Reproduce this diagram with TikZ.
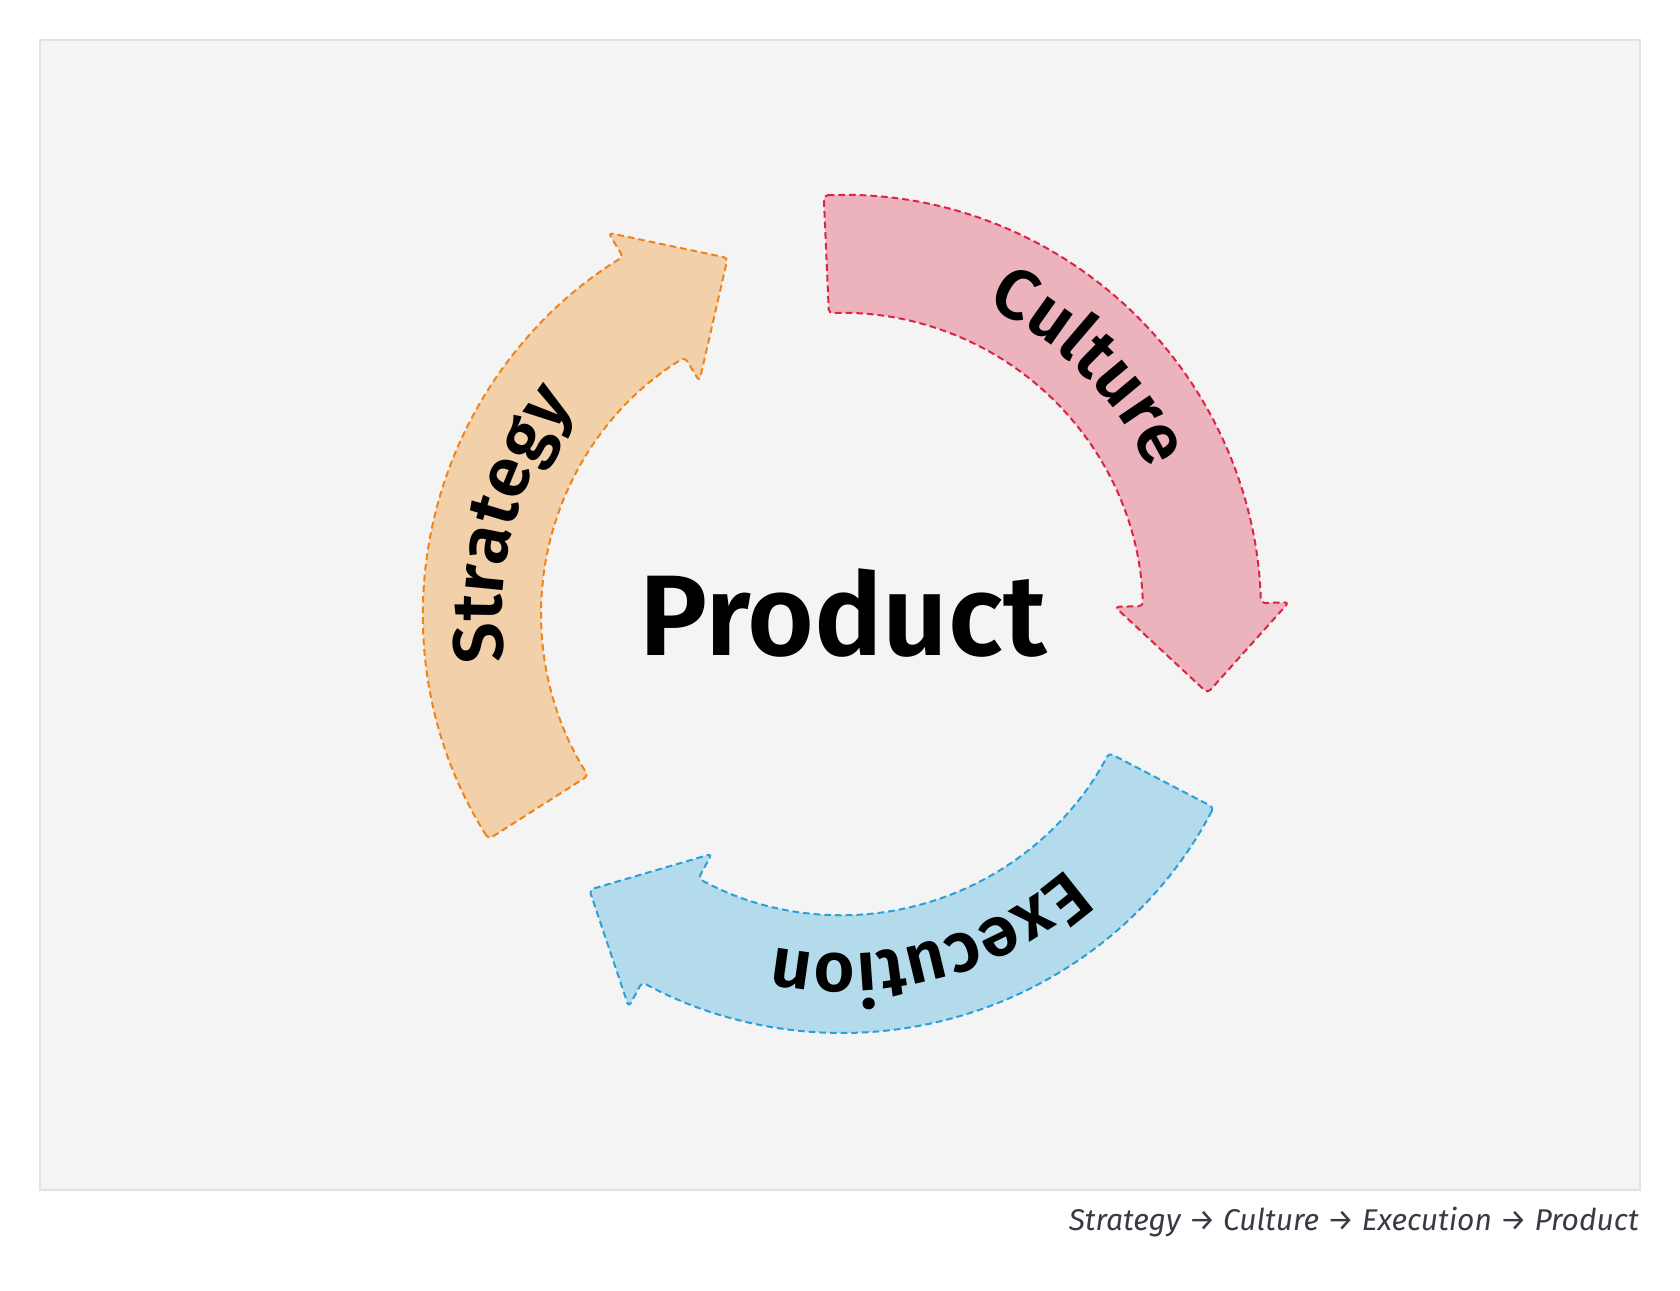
\documentclass[tikz,border=0pt]{standalone}
\usepackage{fontspec}
\setmainfont{Fira Sans}[BoldFont={Fira Sans SemiBold}]
\usetikzlibrary{decorations.text}
\definecolor{panelfill}{HTML}{F4F4F4}
\definecolor{panelline}{HTML}{E2E2E2}
\definecolor{strategyfill}{HTML}{F2D0AA}
\definecolor{strategyline}{HTML}{F08418}
\definecolor{culturefill}{HTML}{ECB3BD}
\definecolor{cultureline}{HTML}{DC2444}
\definecolor{executionfill}{HTML}{B3DBEC}
\definecolor{executionline}{HTML}{2A9FD8}
\definecolor{captiontext}{HTML}{3A3A44}
\begin{document}
\begin{tikzpicture}[x=0.75pt,y=0.75pt,
	band/.style={line width=1.5pt,dash pattern=on 5pt off 3pt,line join=round,rounded corners=3pt},
	bandtext/.style={decorate,decoration={text along path,text align=center,
		text={|\bfseries\fontsize{53pt}{53pt}\selectfont|#1}}}]
	\useasboundingbox (0,0) rectangle (1680,1290);
	\fill[white] (0,0) rectangle (1680,1290);
	\draw[fill=panelfill,draw=panelline,line width=1.5pt] (40,100) rectangle (1640,1250);
	
	\coordinate (O) at (842,676);
	\begin{scope}[shift={(O)}]
		% Strategy
		\draw[band,fill=strategyfill,draw=strategyline] (212.5:419) arc[start angle=212.5,end angle=121.5,radius=419]
			-- (121.5:447) -- (107.8:374) -- (121.5:273) -- (121.5:301)
			arc[start angle=121.5,end angle=212.5,radius=301] -- cycle;
		\path[bandtext=Strategy] (210:340) arc[start angle=210,end angle=120,radius=340];
		
		% Culture
		\draw[band,fill=culturefill,draw=cultureline] (92.5:419) arc[start angle=92.5,end angle=1.5,radius=419]
			-- (1.5:447) -- (-12.2:374) -- (1.5:273) -- (1.5:301)
			arc[start angle=1.5,end angle=92.5,radius=301] -- cycle;
		\path[bandtext=Culture] (90:340) arc[start angle=90,end angle=0,radius=340];
		
		% Execution
		\draw[band,fill=executionfill,draw=executionline] (-27.5:419) arc[start angle=-27.5,end angle=-118.5,radius=419]
			-- (-118.5:447) -- (-132.5:374) -- (-118.5:273) -- (-118.5:301)
			arc[start angle=-118.5,end angle=-27.5,radius=301] -- cycle;
		\path[bandtext=Execution] (-30:340) arc[start angle=-30,end angle=-120,radius=340];
	\end{scope}
	
	\node[anchor=base,font=\bfseries\fontsize{86pt}{86pt}\selectfont] (product) at (843,634) {Product};
	\node[anchor=base east,inner sep=0pt,text=captiontext,font=\itshape\fontsize{22.5pt}{22.5pt}\selectfont] (caption) at (1639,60) {Strategy → Culture → Execution → Product};
\end{tikzpicture}
\end{document}
